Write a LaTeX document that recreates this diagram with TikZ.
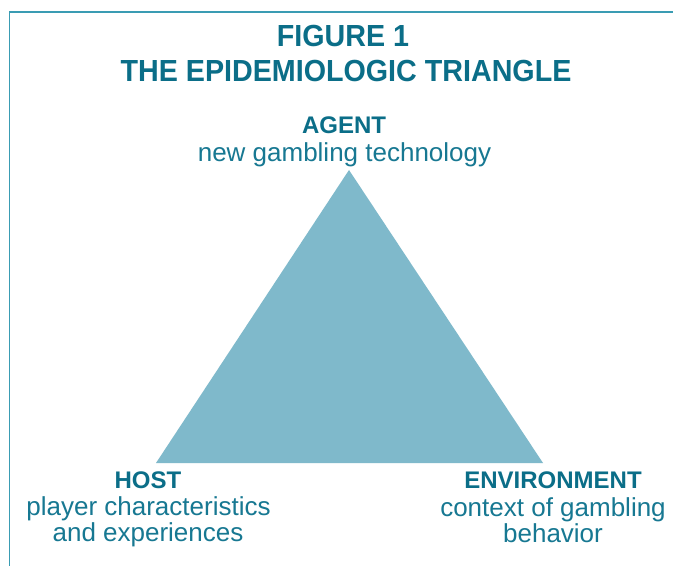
\documentclass[tikz,border=0pt]{standalone}
\usepackage{fontspec}
\setmainfont{Liberation Sans}
\newfontfamily\titlefont[FakeStretch=0.94]{Liberation Sans}
\definecolor{titleteal}{HTML}{0B6E88}
\definecolor{textteal}{HTML}{177892}
\definecolor{triteal}{HTML}{7FB9CB}
\definecolor{frameteal}{HTML}{3A9CB3}
\begin{document}
\begin{tikzpicture}[x=1bp,y=-1bp,
  titletext/.style={font=\titlefont\bfseries\fontsize{30.5bp}{36bp}\selectfont, text=titleteal, anchor=base, inner sep=0pt},
  headtext/.style={font=\bfseries\fontsize{24bp}{28bp}\selectfont, text=titleteal, anchor=base, inner sep=0pt},
  desctext/.style={font=\fontsize{26bp}{30bp}\selectfont, text=textteal, anchor=base, inner sep=0pt},
  frameline/.style={draw=frameteal, line width=1.8bp},
  trifill/.style={fill=triteal}]
\useasboundingbox (0,0) rectangle (673,566);
\fill[white] (0,0) rectangle (673,566);
% frame
\coordinate (fb) at (9.5,566);
\coordinate (fc) at (9.5,12);
\coordinate (fr) at (673,12);
\draw[frameline] (fb) -- (fc) -- (fr);
% triangle
\coordinate (apex) at (349,170);
\coordinate (bl) at (156,463);
\coordinate (br) at (543,463);
\fill[trifill] (apex) -- (bl) -- (br) -- cycle;
% title
\node[titletext] (fig) at (343,47) {FIGURE 1};
\node[titletext] (ttl) at (346,82) {THE EPIDEMIOLOGIC TRIANGLE};
% agent
\node[headtext] (agent) at (344,134) {AGENT};
\node[desctext] (agentd) at (344.5,162) {new gambling technology};
% host
\node[headtext] (host) at (148,488) {HOST};
\node[desctext] (hostd1) at (148.5,515) {player characteristics};
\node[desctext] (hostd2) at (148,541) {and experiences};
% environment
\node[headtext] (env) at (553,488) {ENVIRONMENT};
\node[desctext] (envd1) at (553,516) {context of gambling};
\node[desctext] (envd2) at (553,542) {behavior};
\end{tikzpicture}
\end{document}
